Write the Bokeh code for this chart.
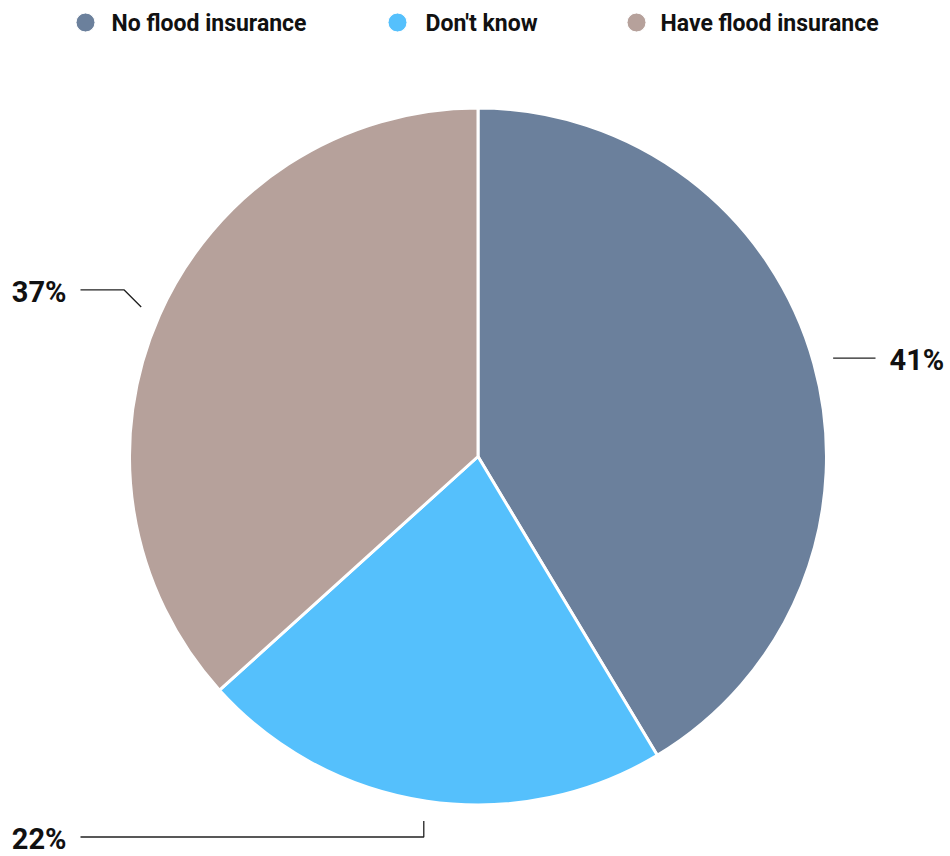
import math
from bokeh.plotting import figure
from bokeh.models import Range1d
from bokeh.core.properties import value
from bokeh.embed import file_html
from bokeh.resources import INLINE

categories = ["No flood insurance", "Don't know", "Have flood insurance"]
shares = [41.4, 21.9, 36.7]
labels = ["41%", "22%", "37%"]
colors = ["#6b809c", "#55c0fc", "#b6a19b"]

W, H = 950, 856
FONT = "Roboto"

p = figure(width=W, height=H, x_range=Range1d(0, W), y_range=Range1d(0, H),
           output_backend="svg", toolbar_location=None, min_border=0)
p.axis.visible = False
p.grid.visible = False
p.outline_line_color = None
p.background_fill_color = "white"

cx, cy, r = 477.5, H - 456, 348.5
total = sum(shares)
starts, ends, mids = [], [], []
cum = 0.0
for v in shares:
    a0 = math.pi / 2 - cum / total * 2 * math.pi
    cum += v
    a1 = math.pi / 2 - cum / total * 2 * math.pi
    starts.append(a0); ends.append(a1); mids.append((a0 + a1) / 2)

p.wedge(x=[cx] * 3, y=[cy] * 3, radius=r, start_angle=starts, end_angle=ends,
        direction="clock", fill_color=colors, line_color="white", line_width=3)

# connectors and labels (layout)
label_layout = {
    "41%": dict(elbow=None, end_x=875, tx=889, align="left"),
    "22%": dict(elbow="v", end_x=80, tx=66, align="right"),
    "37%": dict(elbow="d", end_x=80, tx=66, align="right"),
}
for lab, m in zip(labels, mids):
    lay = label_layout[lab]
    x0 = cx + (r + 20) * math.cos(m)
    y0 = cy + (r + 20) * math.sin(m)
    if lay["elbow"] is None:
        ly = y0
        xs, ys = [x0, lay["end_x"]], [ly, ly]
    elif lay["elbow"] == "v":
        ly = y0 - 16
        xs, ys = [x0, x0, lay["end_x"]], [y0, ly, ly]
    else:
        ly = y0 + 17
        xs, ys = [x0, x0 - 17, lay["end_x"]], [y0, ly, ly]
    p.line(xs, ys, line_color="#222222", line_width=1.3)
    p.text(x=[lay["tx"]], y=[ly - 2], text=[lab], text_font=value(FONT),
           text_font_style="bold", text_font_size="29px", text_color="#111111",
           text_align=lay["align"], text_baseline="middle")

# legend
leg_cx = [85, 397, 636]
leg_tx = [111, 425, 660]
ly = H - 22
p.scatter(x=leg_cx, y=[ly] * 3, size=19, fill_color=colors, line_color="white", line_width=1)
p.text(x=leg_tx, y=[ly - 1] * 3, text=categories, text_font=value(FONT),
       text_font_style="bold", text_font_size="23px", text_color="#111111",
       text_align="left", text_baseline="middle")

open("out.html", "w").write(file_html(p, INLINE))
